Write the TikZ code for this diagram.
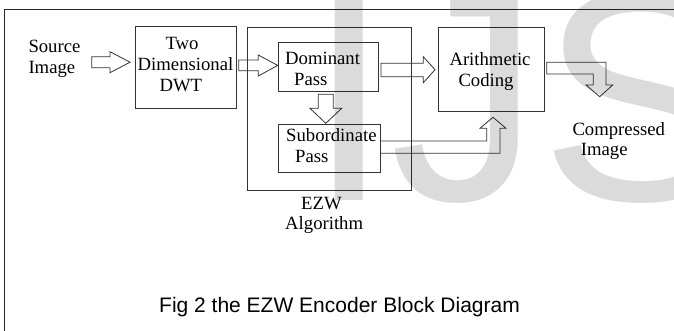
\documentclass[tikz,border=0pt]{standalone}
\usepackage{fontspec}
\setmainfont{Liberation Serif}
\newfontfamily\capfont{Liberation Sans}
\begin{document}
\begin{tikzpicture}[x=1pt,y=-1pt,
  box/.style={draw=black!80, line width=0.8pt, rectangle, inner sep=0pt},
  blockarrow/.style={draw=black!80, line width=0.8pt, line join=miter},
  lbl/.style={font=\fontsize{18.7}{21}\selectfont, inner sep=0pt, anchor=base west},
  lblc/.style={font=\fontsize{18.7}{21}\selectfont, inner sep=0pt, anchor=base},
  ]
\useasboundingbox (0,0) rectangle (674,330);
\clip (0,0) rectangle (674,330);
\fill[white] (0,0) rectangle (674,330);
% outer frame
\draw[line width=1.6pt, black!85] (4.5,9.3) rectangle (700,360);

% boxes
\node[box, minimum width=101.3pt, minimum height=81.6pt] (dwt) at (185.65,67.5) {};
\node[box, minimum width=164pt, minimum height=162.3pt] (ezw) at (329.7,108.85) {};
\node[box, minimum width=99.6pt, minimum height=48.3pt] (dom) at (328.5,66.85) {};
\node[box, minimum width=101.3pt, minimum height=48.3pt] (sub) at (329.35,148.15) {};
\node[box, minimum width=105.6pt, minimum height=83.3pt] (ari) at (491.5,69.35) {};

% labels
\node[lbl] (src1) at (28.3,52) {Source};
\node[lbl] (src2) at (28.3,73) {Image};
\node[lblc] (dwt1) at (182,49) {Two};
\node[lblc] (dwt2) at (185.5,70) {Dimensional};
\node[lblc] (dwt3) at (180.8,91) {DWT};
\node[lbl] (dom1) at (285,64.3) {Dominant};
\node[lbl] (dom2) at (294,85) {Pass};
\node[lbl] (sub1) at (286,141.7) {Subordinate};
\node[lbl] (sub2) at (295,162.3) {Pass};
\node[lbl] (ari1) at (449.3,65.7) {Arithmetic};
\node[lbl] (ari2) at (458.3,86.7) {Coding};
\node[lbl] (out1) at (572.3,135) {Compressed};
\node[lbl] (out2) at (580.7,155.7) {Image};
\node[lbl] (ezw1) at (301,209.5) {EZW};
\node[lbl] (ezw2) at (285,229) {Algorithm};
\node[font=\capfont\fontsize{21}{24}\selectfont, inner sep=0pt, anchor=base west] (cap) at (159,312) {Fig 2 the EZW Encoder Block Diagram};

% block arrows
% source -> dwt
\draw[blockarrow] (91.7,56.7) -- (110,56.7) -- (110,51.7) -- (130,62.2) -- (110,72.7) -- (110,67.7) -- (91.7,67.7) -- cycle;
% dwt -> dominant
\draw[blockarrow] (238.7,60) -- (258.3,60) -- (258.3,55) -- (277.7,65.4) -- (258.3,76) -- (258.3,70.7) -- (238.7,70.7) -- cycle;
% dominant -> arithmetic
\draw[blockarrow] (381,63.3) -- (423.3,63.3) -- (423.3,56.7) -- (435,69.7) -- (423.3,82.7) -- (423.3,76.7) -- (381,76.7) -- cycle;
% dominant -> subordinate
\draw[blockarrow] (318.3,94.3) -- (333.3,94.3) -- (333.3,108.3) -- (341.7,108.3) -- (325.8,123.3) -- (310,108.3) -- (318.3,108.3) -- cycle;
% subordinate -> arithmetic
\draw[blockarrow] (sub.east |- 0,141) -- (486.7,141) -- (486.7,128.3) -- (480,128.3) -- (493,117.3) -- (506,128.3) -- (500,128.3) -- (500,153.3) -- (sub.east |- 0,153.3);
% arithmetic -> compressed image
\draw[blockarrow] (546.7,62.3) -- (606,62.3) -- (606,85) -- (612.7,85) -- (599.7,96.7) -- (586,85) -- (593.3,85) -- (593.3,74) -- (546.7,74) -- cycle;

% watermark
\node[font=\capfont\fontsize{300}{300}\selectfont, opacity=0.14, inner sep=0pt, anchor=base west] (wm) at (307,200) {IJS};
\end{tikzpicture}
\end{document}
